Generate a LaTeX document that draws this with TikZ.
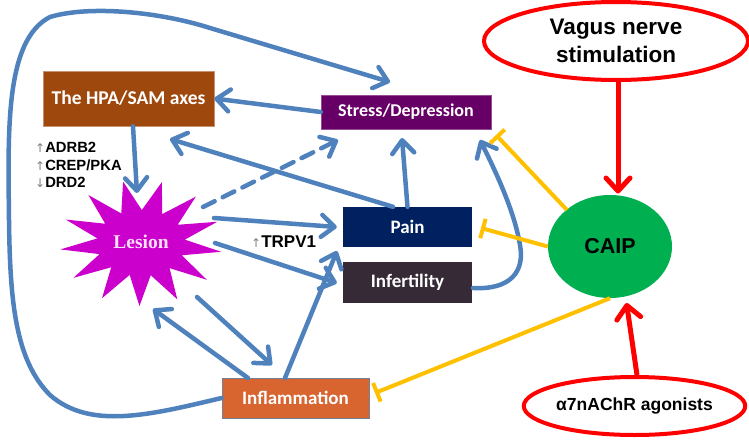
\documentclass[tikz,border=0pt]{standalone}
\usepackage{fontspec}
\setmainfont{Liberation Sans}
\newfontfamily\calfont{Carlito}
\newfontfamily\serfont{Liberation Serif}
\newfontfamily\arrfont{DejaVu Sans}
\usetikzlibrary{arrows.meta,shapes.geometric,calc}
\definecolor{lineblue}{HTML}{4F81BD}
\definecolor{hpacol}{HTML}{9E480E}
\definecolor{stresscol}{HTML}{660066}
\definecolor{paincol}{HTML}{002060}
\definecolor{infcol}{HTML}{362A36}
\definecolor{inflcol}{HTML}{D8642F}
\definecolor{lesioncol}{HTML}{CC00CC}
\definecolor{caipcol}{HTML}{00B050}
\definecolor{inhcol}{HTML}{FFC000}
\definecolor{redcol}{HTML}{FF0000}
\newcommand\upar{{\arrfont\mdseries\color{gray}\fontsize{12}{12}\selectfont ↑}}
\newcommand\downar{{\arrfont\mdseries\color{gray}\fontsize{12}{12}\selectfont ↓}}
\begin{document}
\begin{tikzpicture}[x=1pt,y=-1pt,
  boxnode/.style={rectangle, inner sep=0, text=white,
    font=\calfont\bfseries\fontsize{19}{22}\selectfont},
  ovalnode/.style={ellipse, inner sep=0, draw=redcol, line width=4pt, fill=white,
    font=\bfseries, align=center},
  bluearrow/.style={draw=lineblue, line width=4.5pt, line cap=round,
    -{Straight Barb[length=13pt,width=22pt,round]}},
  redarrow/.style={draw=redcol, line width=5pt,
    -{Straight Barb[length=13pt,width=24pt,round]}},
  inhibit/.style={draw=inhcol, line width=4pt, -{Bar[width=20pt]}},
  genelabel/.style={font=\bfseries\fontsize{14.8}{17.8}\selectfont, inner sep=0, align=left}
]
\useasboundingbox (0,0) rectangle (749,439);

% lesion star
\fill[lesioncol] plot[samples at={0,...,25}]
  ({141+(mod(\x,2)==0?81:44)*cos(360/26*\x+8)},
   {243+(mod(\x,2)==0?63:33)*sin(360/26*\x+8)}) -- cycle;
\node[ellipse, inner sep=0, minimum width=150, minimum height=112,
  font=\serfont\bfseries\fontsize{19.5}{22}\selectfont, text=white!88!lesioncol]
  (lesion) at (141,242) {Lesion};

% boxes
\node[boxnode, fill=hpacol, draw=hpacol!60!white, line width=0.6pt,
  minimum width=171, minimum height=55, font=\calfont\bfseries\fontsize{19.5}{22}\selectfont]
  (hpa) at (128.5,98.5) {The HPA/SAM axes};
\node[boxnode, fill=stresscol, draw=stresscol!70!white, line width=0.6pt,
  minimum width=170, minimum height=34, font=\calfont\bfseries\fontsize{18}{21}\selectfont]
  (stress) at (406,112) {Stress/Depression};
\node[boxnode, fill=paincol, minimum width=129, minimum height=40] (pain) at (407.5,227) {Pain};
\node[boxnode, fill=infcol, minimum width=129, minimum height=41] (infert) at (407.5,282.5) {Infertility};
\node[boxnode, fill=inflcol, draw=gray!70!lineblue, line width=0.8pt,
  minimum width=147, minimum height=40] (inflam) at (295.5,398) {Inflammation};

% ovals
\node[ovalnode, minimum width=264, minimum height=78,
  font=\bfseries\fontsize{22.5}{28}\selectfont] (vagus) at (616,41) {Vagus nerve\\stimulation};
\node[ellipse, inner sep=0, fill=caipcol, minimum width=124, minimum height=103,
  font=\bfseries\fontsize{21.5}{24}\selectfont] (caip) at (610,246.5) {CAIP};
\node[ovalnode, minimum width=205, minimum height=58,
  font=\bfseries\fontsize{17.5}{20}\selectfont] (alpha) at (634.5,406) {α7nAChR agonists};

% gene labels
\node[genelabel, anchor=west] (genes) at (35,165) {\upar ADRB2\\\upar CREP/PKA\\\downar DRD2};
\node[genelabel, anchor=west, font=\bfseries\fontsize{17}{18}\selectfont] (trpv) at (251,242) {\upar TRPV1};

% blue connectors
\draw[bluearrow] (inflam.west) .. controls (150,415) and (90,430) .. (50,395)
  .. controls (15,360) and (10,300) .. (9,220)
  .. controls (8,130) and (5,40) .. (50,17)
  .. controls (90,5) and (160,12) .. (210,28)
  -- ($(stress.center)+(-16,-30)$);
\draw[bluearrow] (stress.west) -- (hpa.east);
\draw[bluearrow] ($(hpa.south)+(4.5,0)$) -- ($(lesion.center)+(-4,-49)$);
\draw[bluearrow, dash pattern=on 13pt off 9pt] ($(lesion.center)+(62,-35)$) -- ($(stress.center)+(-68,28)$);
\draw[bluearrow] ($(pain.north)+(-14.5,0)$) -- ($(hpa.center)+(41.5,40.5)$);
\draw[bluearrow] (pain.north) -- ($(stress.center)+(-4,26)$);
\draw[bluearrow] ($(lesion.center)+(73,-24)$) -- ($(pain.west)+(-6,0)$);
\draw[bluearrow] ($(lesion.center)+(74,1)$) -- ($(infert.west)+(-6,0.5)$);
\draw[bluearrow] ($(inflam.center)+(-10.5,-20)$) -- ($(pain.center)+(-70.5,24)$);
\draw[bluearrow] ($(lesion.center)+(56,55)$) -- ($(inflam.center)+(-23.5,-33)$);
\draw[bluearrow] ($(inflam.center)+(-47.5,-20)$) -- ($(lesion.center)+(12,67)$);
\draw[bluearrow] ($(infert.center)+(65.5,5.5)$) .. controls (510,290) and (525,272) .. (520,245)
  .. controls (515,215) and (500,180) .. ($(stress.center)+(74,28)$);

% inhibitions
\draw[inhibit] ($(caip.center)+(-43,-36.5)$) -- ($(stress.center)+(90,23)$);
\draw[inhibit] (caip.west) -- ($(pain.center)+(73.5,1)$);
\draw[inhibit] (caip.south) -- ($(inflam.center)+(79.5,-5)$);

% red activations
\draw[redarrow] ($(vagus.south)+(2,0)$) -- ($(caip.center)+(8,-53)$);
\draw[redarrow] ($(alpha.north)+(2.5,0)$) -- ($(caip.center)+(16.5,56.5)$);
\end{tikzpicture}
\end{document}
